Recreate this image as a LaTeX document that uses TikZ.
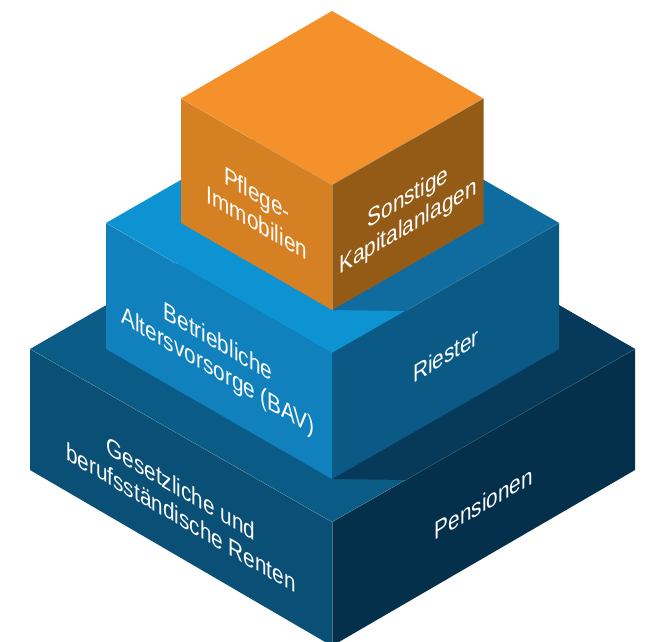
\documentclass[tikz,border=0pt]{standalone}
\usepackage{fontspec}
\setmainfont{Liberation Sans}
\definecolor{orTop}{HTML}{F4912B}
\definecolor{orLeft}{HTML}{D58023}
\definecolor{orRight}{HTML}{945B17}
\definecolor{miTop}{HTML}{0D92D2}
\definecolor{miShade}{HTML}{106C9E}
\definecolor{miLeft}{HTML}{1081BD}
\definecolor{miRight}{HTML}{0B5A85}
\definecolor{loTop}{HTML}{0B5B87}
\definecolor{loShade}{HTML}{07395A}
\definecolor{loLeft}{HTML}{0A5076}
\definecolor{loRight}{HTML}{04304B}
\tikzset{
  lbl/.style={text=white,align=center,inner sep=0pt,transform shape,font=\fontsize{25}{29}\selectfont},
  onleft/.style={cm={0.83,-0.485,0,1,#1}},
  onright/.style={cm={0.83,0.485,0,1,#1}},
  seam/.style={line width=0.3pt,draw=white,draw opacity=0.3}
}
\begin{document}
\begin{tikzpicture}[x=1pt,y=-1pt]
\useasboundingbox (0,0) rectangle (656,642);
\clip (0,0) rectangle (656,642);
% lower block
\fill[loTop] (30,349) -- (332,175) -- (635,349) -- (332,522) -- cycle;
\fill[loShade] (332,479) -- (407,480) -- (635,349) -- (559,305) -- cycle;
\fill[loLeft] (30,470) -- (332,646) -- (332,522) -- (30,349) -- cycle;
\fill[loRight] (635,349) -- (332,522) -- (332,646) -- (635,470) -- cycle;
\draw[seam] (30,349) -- (332,522) -- (635,349);
\draw[seam] (332,522) -- (332,642);
% middle block
\fill[miTop] (106,223) -- (332,93) -- (559,223) -- (332,353) -- cycle;
\fill[miShade] (332,310) -- (407,311) -- (559,223) -- (483.5,180) -- cycle;
\fill[miLeft] (106,223) -- (332,353) -- (332,479) -- (106,349) -- cycle;
\fill[miRight] (559,223) -- (332,353) -- (332,479) -- (559,349) -- cycle;
\draw[seam] (106,223) -- (175,263);
\draw[seam] (407,310) -- (559,223);
% upper block
\fill[orTop] (181,98.5) -- (332,11) -- (483.5,98.5) -- (332,185) -- cycle;
\fill[orLeft] (181,98.5) -- (332,185) -- (332,310) -- (181,223) -- cycle;
\fill[orRight] (483.5,98.5) -- (332,185) -- (332,310) -- (483.5,223) -- cycle;
\draw[seam] (181,98.5) -- (332,185) -- (483.5,98.5);
\draw[seam] (332,185) -- (332,310);
% labels
\node[lbl,onleft={(257,208)}] (a) {Pflege-\\Immobilien};
\node[lbl,onright={(408,213)}] (b) {Sonstige\\Kapitalanlagen};
\node[lbl,onleft={(218,358)}] (c) {Betriebliche\\Altersvorsorge (BAV)};
\node[lbl,onright={(446,355)}] (d) {Riester};
\node[lbl,onleft={(181,503)}] (e) {Gesetzliche und\\berufsständische Renten};
\node[lbl,onright={(484,503)}] (f) {Pensionen};
\end{tikzpicture}
\end{document}
